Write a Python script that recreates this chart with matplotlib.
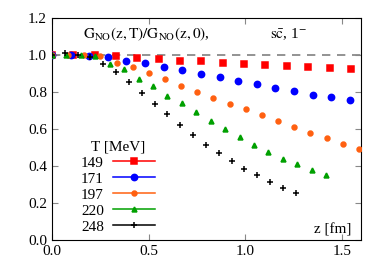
import matplotlib
matplotlib.use("Agg")
from matplotlib import pyplot as plt
from matplotlib.lines import Line2D
import numpy as np

plt.rcParams['font.family'] = ['Liberation Serif', 'DejaVu Serif']
plt.rcParams['mathtext.fontset'] = 'stix'

# lattice spacings (fm) per temperature
temps = ['149', '171', '197', '220', '248']
spacing = [0.1105, 0.0964, 0.0836, 0.0747, 0.0664]

y149 = [1.0, 1.0, 1.0, 0.995, 0.982, 0.977, 0.969, 0.966, 0.957, 0.953, 0.946, 0.940, 0.937, 0.928, 0.924]
e149 = [0.0, 0.001, 0.001, 0.002, 0.003, 0.004, 0.005, 0.006, 0.007, 0.008, 0.009, 0.010, 0.011, 0.013, 0.015]
y171 = [1.0, 1.0, 0.995, 0.988, 0.969, 0.959, 0.935, 0.919, 0.897, 0.881, 0.861, 0.841, 0.822, 0.804, 0.786, 0.771, 0.757]
e171 = [0.0, 0.001, 0.001, 0.001, 0.002, 0.002, 0.003, 0.003, 0.004, 0.004, 0.005, 0.005, 0.006, 0.007, 0.008, 0.009, 0.010]
y197 = [1.0, 1.0, 0.998, 0.993, 0.955, 0.933, 0.901, 0.868, 0.832, 0.802, 0.769, 0.737, 0.706, 0.674, 0.643, 0.611, 0.578, 0.550, 0.519, 0.490]
e197 = [0.0] + [0.002] * 14 + [0.003, 0.004, 0.005, 0.006, 0.007]
y220 = [1.0, 1.0, 1.0, 0.997, 0.951, 0.923, 0.872, 0.832, 0.780, 0.741, 0.694, 0.645, 0.602, 0.555, 0.514, 0.474, 0.440, 0.409, 0.377, 0.350]
e220 = [0.0] + [0.002] * 19
y248 = [1.0, 1.009, 1.0, 0.991, 0.951, 0.910, 0.852, 0.796, 0.737, 0.681, 0.623, 0.568, 0.515, 0.469, 0.425, 0.385, 0.350, 0.314, 0.283, 0.254]
e248 = [0.0] + [0.002] * 19

ys = [y149, y171, y197, y220, y248]
es = [e149, e171, e197, e220, e248]
colors = ['#ff0000', '#0000ff', '#ff6010', '#00a000', '#000000']
markers = ['s', 'o', 'o', '^', '+']
msizes = [4, 4.5, 3.5, 3.5, 5]

fig = plt.figure(figsize=(3.9, 2.73), dpi=100)
ax = fig.add_axes([0.133, 0.121, 0.793, 0.813])

ax.axhline(1.0, color='gray', ls=(0, (5, 4)), lw=1.2, zorder=1)

handles = []
for i in range(5):
    z = spacing[i] * np.arange(len(ys[i]))
    ax.errorbar(z, ys[i], yerr=es[i], fmt=markers[i], color=colors[i], ms=msizes[i],
                mew=1.1, elinewidth=1.1, capsize=0, zorder=3 + i)
    handles.append(Line2D([], [], color=colors[i], marker=markers[i], ms=msizes[i], mew=1.1, lw=1.1))

ax.set_xlim(0, 1.6)
ax.set_ylim(0, 1.2)
ax.set_xticks([0, 0.5, 1.0, 1.5])
ax.set_xticklabels(['0.0', '0.5', '1.0', '1.5'])
ax.set_yticks([0, 0.2, 0.4, 0.6, 0.8, 1.0, 1.2])
ax.set_yticklabels(['0.0', '0.2', '0.4', '0.6', '0.8', '1.0', '1.2'])
ax.tick_params(direction='in', top=True, right=True, labelsize=11, length=4, color='#888888')
for s in ax.spines.values():
    s.set_linewidth(0.8)

ax.text(0.10, 0.925, r'$\mathrm{G_{NO}(z,T)/G_{NO}(z,0)}$,', transform=ax.transAxes, fontsize=11, va='center')
ax.text(0.705, 0.925, r'$\mathrm{s\bar{c}}$, 1$^{-}$', transform=ax.transAxes, fontsize=11, va='center')
ax.text(0.97, 0.045, 'z [fm]', transform=ax.transAxes, fontsize=11, ha='right', va='center')

leg = ax.legend(handles, temps, title='T [MeV]', loc='lower left', bbox_to_anchor=(0.06, -0.02),
                frameon=False, markerfirst=False, fontsize=11, title_fontsize=11,
                handlelength=2.75, handletextpad=0.6, labelspacing=0.15, borderpad=0.2)

fig.savefig('out.png', dpi=100)
